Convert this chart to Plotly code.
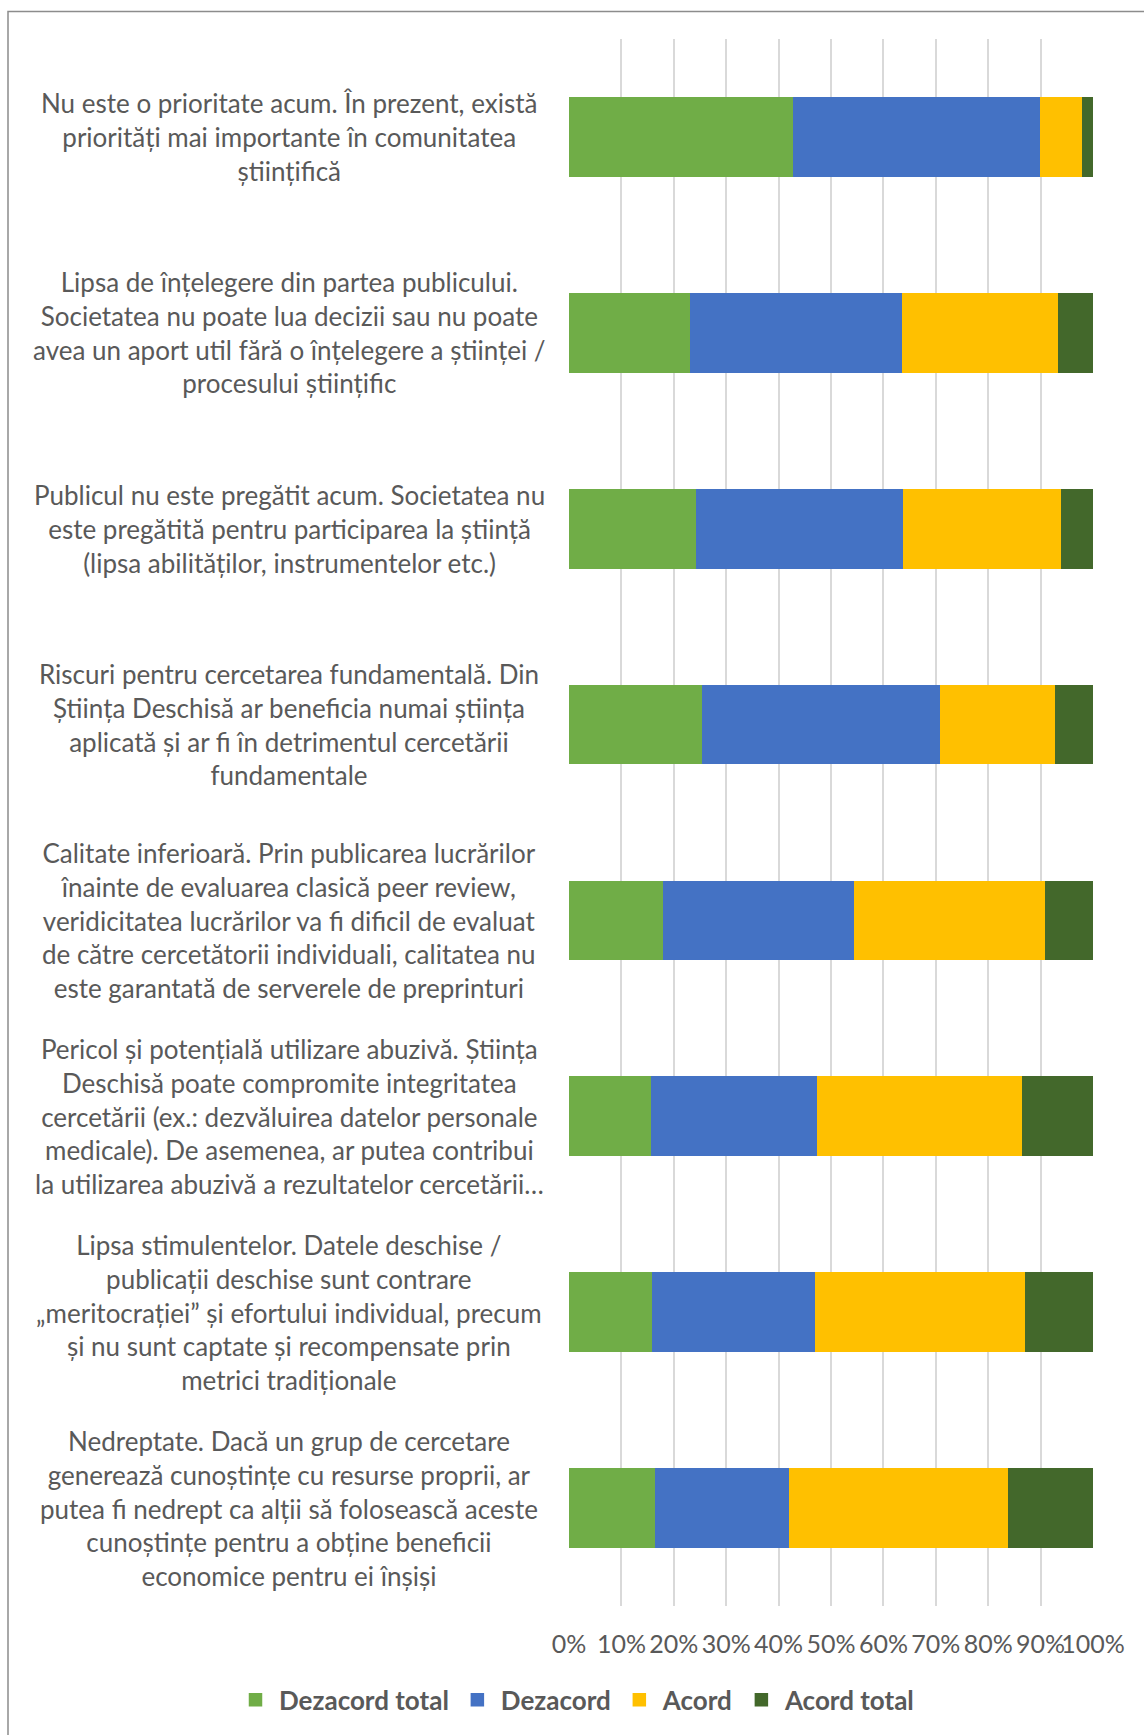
import plotly.graph_objects as go

categories = [
    "Nu este o prioritate acum. În prezent, există<br>priorități mai importante în comunitatea<br>științifică",
    "Lipsa de înțelegere din partea publicului.<br>Societatea nu poate lua decizii sau nu poate<br>avea un aport util fără o înțelegere a științei /<br>procesului științific",
    "Publicul nu este pregătit acum. Societatea nu<br>este pregătită pentru participarea la știință<br>(lipsa abilităților, instrumentelor etc.)",
    "Riscuri pentru cercetarea fundamentală. Din<br>Știința Deschisă ar beneficia numai știința<br>aplicată și ar fi în detrimentul cercetării<br>fundamentale",
    "Calitate inferioară. Prin publicarea lucrărilor<br>înainte de evaluarea clasică peer review,<br>veridicitatea lucrărilor va fi dificil de evaluat<br>de către cercetătorii individuali, calitatea nu<br>este garantată de serverele de preprinturi",
    "Pericol și potențială utilizare abuzivă. Știința<br>Deschisă poate compromite integritatea<br>cercetării (ex.: dezvăluirea datelor personale<br>medicale). De asemenea, ar putea contribui<br>la utilizarea abuzivă a rezultatelor cercetării…",
    "Lipsa stimulentelor. Datele deschise /<br>publicații deschise sunt contrare<br>„meritocrației” și efortului individual, precum<br>și nu sunt captate și recompensate prin<br>metrici tradiționale",
    "Nedreptate. Dacă un grup de cercetare<br>generează cunoștințe cu resurse proprii, ar<br>putea fi nedrept ca alții să folosească aceste<br>cunoștințe pentru a obține beneficii<br>economice pentru ei înșiși",
]

dezacord_total = [42.9, 23.3, 24.3, 25.6, 18.0, 15.8, 15.9, 16.6]
dezacord = [47.2, 40.3, 39.5, 45.3, 36.5, 31.7, 31.2, 25.5]
acord = [7.9, 29.8, 30.2, 22.0, 36.5, 39.0, 40.1, 41.9]
acord_total = [2.0, 6.6, 6.0, 7.1, 9.0, 13.5, 12.8, 16.0]

tick_values = [0, 10, 20, 30, 40, 50, 60, 70, 80, 90, 100]
tick_labels = ["0%", "10%", "20%", "30%", "40%", "50%", "60%", "70%", "80%", "90%", "100%"]

series = [
    ("Dezacord total", dezacord_total, "#70AD47"),
    ("Dezacord", dezacord, "#4472C4"),
    ("Acord", acord, "#FFC000"),
    ("Acord total", acord_total, "#43682B"),
]

keys = [f"c{i}" for i in range(len(categories))]

fig = go.Figure()
for name, vals, color in series:
    fig.add_trace(go.Bar(
        y=keys, x=vals, name=name, orientation="h",
        marker=dict(color=color, line=dict(width=1.5, color=color)),
    ))

W, H = 1144, 1735
L, R, T, B = 569, 51, 38.5, 127
pw = W - L - R
ph = H - T - B
FONT = "Lato"
GREY = "#595959"

for k, text in zip(keys, categories):
    fig.add_annotation(
        x=(289 - L) / pw, xref="paper", y=k, yref="y",
        text=text, showarrow=False, xanchor="center", yanchor="middle",
        align="center", font=dict(family=FONT, size=26, color=GREY),
    )

# outer chart border
fig.add_shape(type="rect", xref="paper", yref="paper",
              x0=(8 - L) / pw, x1=(W + 40 - L) / pw,
              y0=-0.3, y1=1 + (T - 11) / ph,
              line=dict(color="#8C8C8C", width=1.5), fillcolor="rgba(0,0,0,0)", layer="below")

fig.update_layout(
    width=W, height=H,
    barmode="stack", bargap=0.6,
    margin=dict(l=L, r=R, t=T, b=B),
    paper_bgcolor="white", plot_bgcolor="white",
    font=dict(family=FONT, color=GREY),
    xaxis=dict(range=[0, 100], tickvals=tick_values, ticktext=tick_labels,
               tickangle=0, showgrid=True, gridcolor="#D9D9D9", gridwidth=1.5,
               zeroline=False, showline=False, ticks="outside", ticklen=16,
               tickcolor="rgba(0,0,0,0)", tickfont=dict(family=FONT, size=25, color=GREY)),
    yaxis=dict(autorange="reversed", showticklabels=False, showgrid=False,
               zeroline=False, showline=False),
    legend=dict(orientation="h", xref="paper", yref="paper",
                x=(232 - L) / pw, xanchor="left", y=-(1702 - (T + ph)) / ph, yanchor="middle",
                font=dict(family=FONT, size=26, color=GREY, weight="bold"),
                itemwidth=37, traceorder="normal"),
    showlegend=True,
)

fig.write_html("out.html", config={"displayModeBar": False},
               post_script="document.body.style.margin='0';")
